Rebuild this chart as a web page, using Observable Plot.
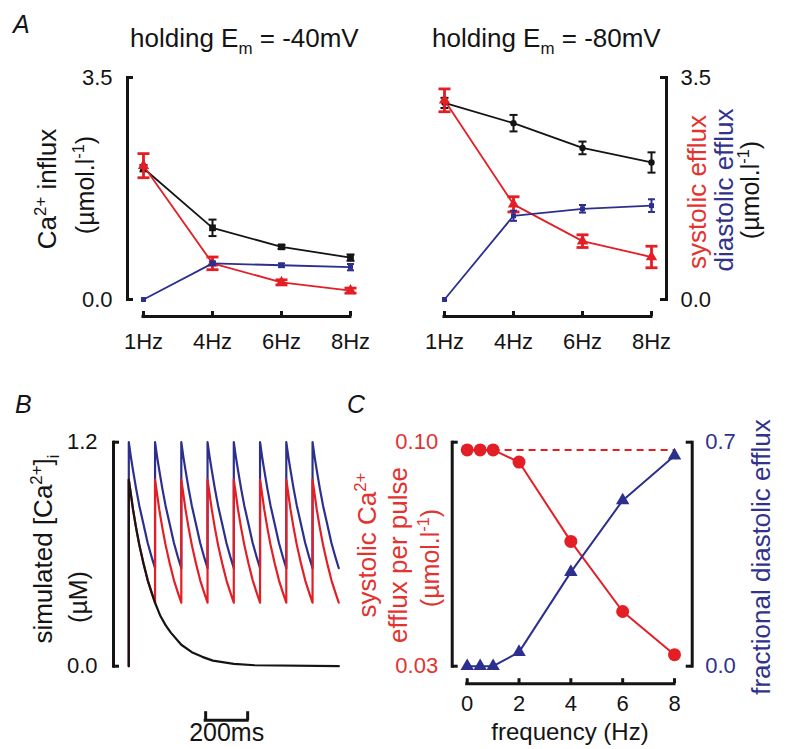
<!DOCTYPE html>
<html><head><meta charset="utf-8">
<script src="https://cdn.jsdelivr.net/npm/d3@7"></script>
<script src="https://cdn.jsdelivr.net/npm/@observablehq/plot@0.6"></script>
<style>
html,body{margin:0;padding:0;background:#fff;}
#chart{position:relative;width:786px;height:749px;overflow:hidden;}
#chart svg{position:absolute;left:0;top:0;}
</style></head><body><div id="chart"></div>
<script>
const W = 786, H = 749;
const RED = "#e31e25", NAVY = "#2d2f8e", INK = "#141414";
const RED_TXT = "#e2332f", NAVY_TXT = "#30328c";
const FONT = '"Liberation Sans", Arial, sans-serif';

// ---- Panel A data ----
const freqLabels = ["1Hz", "4Hz", "6Hz", "8Hz"];
const ampTicks = [0, 3.5];
const m40Influx = [2.07, 1.13, 0.83, 0.66];
const m40InfluxErr = [0.05, 0.13, 0.03, 0.05];
const m40Systolic = [2.11, 0.57, 0.27, 0.14];
const m40SystolicErr = [0.19, 0.10, 0.04, 0.04];
const m40Diastolic = [0, 0.57, 0.54, 0.51];
const m40DiastolicErr = [0, 0.03, 0.03, 0.05];
const m80Influx = [3.10, 2.78, 2.39, 2.16];
const m80InfluxErr = [0.08, 0.13, 0.10, 0.16];
const m80Systolic = [3.14, 1.50, 0.92, 0.67];
const m80SystolicErr = [0.18, 0.12, 0.10, 0.17];
const m80Diastolic = [0, 1.32, 1.43, 1.48];
const m80DiastolicErr = [0, 0.08, 0.06, 0.10];

// ---- Panel B data ----
const beatTimesMs = [0, 125, 250, 375, 500, 625, 750, 875];
const decayOffsetsMs = [0, 10, 20, 35, 50, 70, 90, 110, 125];
const diastolicDecay = [1.2, 1.12, 1.05, 0.95, 0.86, 0.76, 0.66, 0.58, 0.525];
const systolicDecay = [1.0, 0.92, 0.84, 0.74, 0.65, 0.55, 0.46, 0.39, 0.34];
const singleTimeMs = [0, 0, 10, 20, 35, 50, 70, 90, 110, 125, 150, 175, 200, 250, 300, 350, 400, 500, 600, 1000];
const singleCa = [0, 1.0, 0.92, 0.84, 0.74, 0.65, 0.55, 0.46, 0.39, 0.34, 0.27, 0.22, 0.18, 0.115, 0.075, 0.05, 0.03, 0.012, 0.005, 0];
const caTicks = [0, 1.2];
const scaleBarStartMs = 366;
const scaleBarMs = 200;

// ---- Panel C data ----
const freqHz = [0, 0.5, 1, 2, 4, 6, 8];
const freqTicks = [0, 2, 4, 6, 8];
const systolicPerPulse = [0.0976, 0.0976, 0.0976, 0.0938, 0.069, 0.0471, 0.0336];
const fractionalDiastolic = [0, 0, 0, 0.044, 0.294, 0.518, 0.658];
const perPulseTicks = [0.03, 0.10];
const fractionTicks = [0, 0.7];

const chart = document.getElementById("chart");

const capSymbol = {draw(ctx, size) { const r = Math.sqrt(size / Math.PI); ctx.moveTo(-r, 0); ctx.lineTo(r, 0); }};
const upTick = {draw(ctx, size) { const r = Math.sqrt(size / Math.PI); ctx.moveTo(0, 0); ctx.lineTo(0, -r); }};

function baseStyle(color) {
  return {background: "transparent", fontFamily: FONT, color, overflow: "visible"};
}

function bracketY(side, frameW, ticks) {
  const inset = side === "left" ? {insetRight: frameW - 6} : {insetLeft: frameW - 6};
  return [
    Plot.frame({anchor: side, stroke: INK, strokeWidth: 3, strokeLinecap: "square"}),
    Plot.tickY(ticks, {y: d => d, stroke: INK, strokeWidth: 3, ...inset})
  ];
}

function panelA({series, xRange, side, marginLeft, marginRight}) {
  const top = 77, bottom = 299;
  const frameW = W - marginLeft - marginRight;
  const marks = [
    ...bracketY(side, frameW, ampTicks),
    Plot.axisY(ampTicks, {anchor: side, tickSize: 0, tickPadding: side === "left" ? 15 : 14,
      tickFormat: d => d.toFixed(1), fontSize: 22, color: INK, label: null}),
    Plot.ruleY([0], {x1: () => freqLabels[0], x2: () => freqLabels[freqLabels.length - 1], dy: 17,
      stroke: INK, strokeWidth: 3, strokeLinecap: "square"}),
    Plot.axisX(freqLabels, {tickSize: 5, dy: 12, tickPadding: 17, fontSize: 22, strokeWidth: 3, color: INK, label: null})
  ];
  for (const s of series) {
    const rows = s.values.map((v, i) => ({freq: freqLabels[i], v, e: s.err[i]}));
    const withErr = rows.filter(d => d.e > 0);
    marks.push(
      Plot.line(rows, {x: "freq", y: "v", stroke: s.color, strokeWidth: 1.8}),
      Plot.ruleX(withErr, {x: "freq", y1: d => d.v - d.e, y2: d => d.v + d.e, stroke: s.color, strokeWidth: s.errW}),
      Plot.dot(withErr, {x: "freq", y: d => d.v + d.e, symbol: capSymbol, r: s.capR, fill: "none", stroke: s.color, strokeWidth: s.errW}),
      Plot.dot(withErr, {x: "freq", y: d => d.v - d.e, symbol: capSymbol, r: s.capR, fill: "none", stroke: s.color, strokeWidth: s.errW}),
      Plot.dot(rows, {x: "freq", y: "v", symbol: s.symbol, r: s.r, fill: s.color, stroke: "none"})
    );
  }
  return Plot.plot({
    width: W, height: H, marginLeft, marginRight, marginTop: top, marginBottom: H - bottom,
    x: {type: "point", domain: freqLabels, range: xRange, padding: 0},
    y: {domain: [0, 3.5], range: [bottom, top]},
    style: baseStyle(INK),
    marks
  });
}

const AL = panelA({
  side: "left", marginLeft: 127, marginRight: W - 360, xRange: [142, 350],
  series: [
    {values: m40Influx, err: m40InfluxErr, color: INK, symbol: "square", r: 3.8, capR: 4, errW: 2},
    {values: m40Systolic, err: m40SystolicErr, color: RED, symbol: "triangle", r: 4.2, capR: 6, errW: 2.8},
    {values: m40Diastolic, err: m40DiastolicErr, color: NAVY, symbol: "square", r: 2.8, capR: 3.5, errW: 2}
  ]
});
const AR = panelA({
  side: "right", marginLeft: 430, marginRight: W - 666, xRange: [443, 652],
  series: [
    {values: m80Influx, err: m80InfluxErr, color: INK, symbol: "circle", r: 3.2, capR: 4, errW: 2},
    {values: m80Systolic, err: m80SystolicErr, color: RED, symbol: "triangle", r: 4.2, capR: 6, errW: 2.8},
    {values: m80Diastolic, err: m80DiastolicErr, color: NAVY, symbol: "square", r: 2.8, capR: 3.5, errW: 2}
  ]
});

// ---- Panel B ----
function sawtooth(decay) {
  const pts = [{t: 0, v: 0}];
  beatTimesMs.forEach(b => decayOffsetsMs.forEach((o, i) => pts.push({t: b + o, v: decay[i]})));
  return pts;
}
const singleRows = singleTimeMs.map((t, i) => ({t, v: singleCa[i]}));
const bTop = 441.7, bBottom = 665.7, bLeft = 113, bRightM = W - 345;
const B = Plot.plot({
  width: W, height: H, marginLeft: bLeft, marginRight: bRightM, marginTop: bTop, marginBottom: H - bBottom,
  x: {domain: [0, 1000], range: [128.3, 338.3], axis: null},
  y: {domain: [0, 1.2], range: [bBottom, bTop]},
  style: baseStyle(INK),
  marks: [
    ...bracketY("left", W - bLeft - bRightM, caTicks),
    Plot.axisY(caTicks, {anchor: "left", tickSize: 0, tickPadding: 16, tickFormat: d => d.toFixed(1), fontSize: 22, color: INK, label: null}),
    Plot.line(sawtooth(diastolicDecay), {x: "t", y: "v", stroke: NAVY, strokeWidth: 2.2}),
    Plot.line(sawtooth(systolicDecay), {x: "t", y: "v", stroke: RED, strokeWidth: 2.2}),
    Plot.line(singleRows, {x: "t", y: "v", stroke: INK, strokeWidth: 2.2}),
    Plot.ruleY([0], {x1: () => scaleBarStartMs, x2: () => scaleBarStartMs + scaleBarMs, dy: 54, stroke: INK, strokeWidth: 3, strokeLinecap: "square"}),
    Plot.dot([scaleBarStartMs, scaleBarStartMs + scaleBarMs], {x: d => d, y: () => 0, dy: 54, symbol: upTick, r: 9, fill: "none", stroke: INK, strokeWidth: 3}),
    Plot.text([scaleBarMs], {x: () => scaleBarStartMs + scaleBarMs / 2, y: () => 0, dy: 67, text: d => `${d}ms`, fontSize: 25, fill: INK})
  ]
});

// ---- Panel C ----
const cTop = 441.7, cBottom = 665.7, cLeft = 451.7, cRightM = W - 691.7;
const cFrameW = W - cLeft - cRightM;
const cRows = freqHz.map((f, i) => ({f, s: systolicPerPulse[i], d: fractionalDiastolic[i]}));
const C1 = Plot.plot({
  width: W, height: H, marginLeft: cLeft, marginRight: cRightM, marginTop: cTop, marginBottom: H - cBottom,
  x: {domain: [0, 8], range: [466.7, 674]},
  y: {domain: [0.03, 0.10], range: [cBottom, cTop]},
  style: baseStyle(RED_TXT),
  marks: [
    ...bracketY("left", cFrameW, perPulseTicks),
    Plot.axisY(perPulseTicks, {anchor: "left", tickSize: 0, tickPadding: 14, tickFormat: d => d.toFixed(2), fontSize: 22, color: RED_TXT, label: null}),
    Plot.ruleY([perPulseTicks[0]], {x1: () => freqTicks[0], x2: () => freqTicks[freqTicks.length - 1], dy: 17.5, stroke: INK, strokeWidth: 3, strokeLinecap: "square"}),
    Plot.axisX(freqTicks, {tickSize: 5, dy: 12.5, tickPadding: 12, fontSize: 22, strokeWidth: 3, color: INK, fill: INK, stroke: INK, label: null}),
    Plot.ruleY([systolicPerPulse[2]], {x1: () => freqHz[2], x2: () => freqHz[freqHz.length - 1], stroke: RED, strokeWidth: 2, strokeDasharray: "7,5"}),
    Plot.line(cRows, {x: "f", y: "s", stroke: RED, strokeWidth: 2}),
    Plot.dot(cRows, {x: "f", y: "s", r: 6.5, fill: RED, stroke: "none"})
  ]
});
const C2 = Plot.plot({
  width: W, height: H, marginLeft: cLeft, marginRight: cRightM, marginTop: cTop, marginBottom: H - cBottom,
  x: {domain: [0, 8], range: [466.7, 674], axis: null},
  y: {domain: [0, 0.7], range: [cBottom, cTop]},
  style: baseStyle(NAVY_TXT),
  marks: [
    ...bracketY("right", cFrameW, fractionTicks),
    Plot.axisY(fractionTicks, {anchor: "right", tickSize: 0, tickPadding: 13, tickFormat: d => d.toFixed(1), fontSize: 22, color: NAVY_TXT, label: null}),
    Plot.line(cRows, {x: "f", y: "d", stroke: NAVY, strokeWidth: 2}),
    Plot.dot(cRows, {x: "f", y: "d", symbol: "triangle", r: 5, fill: NAVY, stroke: "none"})
  ]
});

[AL, AR, B, C1, C2].forEach(p => chart.appendChild(p));

// ---- Text overlay ----
const overlay = d3.select(chart).append("svg").attr("width", W).attr("height", H)
  .style("font-family", FONT).style("pointer-events", "none");

function label(parts, {x, y, rotate = false, size = 26, fill = INK, anchor = "start", italic = false}) {
  const t = overlay.append("text").attr("font-size", size).attr("fill", fill).attr("text-anchor", rotate ? "middle" : anchor);
  if (italic) t.attr("font-style", "italic");
  if (rotate) t.attr("transform", `translate(${x + 0.35 * size},${y}) rotate(-90)`);
  else t.attr("x", x).attr("y", y);
  for (const p of parts) {
    if (typeof p === "string") t.append("tspan").text(p);
    else t.append("tspan").attr("font-size", size * 0.65)
      .attr("baseline-shift", p.sup ? size * 0.4 : -size * 0.25).text(p.text);
  }
}

label(["A"], {x: 13, y: 33, size: 25, italic: true});
label(["B"], {x: 15, y: 413, size: 25, italic: true});
label(["C"], {x: 347, y: 413, size: 25, italic: true});
label(["holding E", {text: "m"}, " = -40mV"], {x: 130, y: 47});
label(["holding E", {text: "m"}, " = -80mV"], {x: 432, y: 47});

label(["Ca", {text: "2+", sup: true}, " influx"], {x: 47, y: 189, rotate: true});
label(["(µmol.l", {text: "-1", sup: true}, ")"], {x: 85, y: 185, rotate: true, size: 25});
label(["systolic efflux"], {x: 697, y: 192, rotate: true, fill: RED_TXT});
label(["diastolic efflux"], {x: 724, y: 190, rotate: true, fill: NAVY_TXT});
label(["(µmol.l", {text: "-1", sup: true}, ")"], {x: 750, y: 190, rotate: true, size: 25});

label(["simulated [Ca", {text: "2+", sup: true}, "]", {text: "i"}], {x: 43, y: 549, rotate: true});
label(["(µM)"], {x: 78, y: 597, rotate: true, size: 25});

label(["systolic Ca", {text: "2+", sup: true}], {x: 367, y: 545, rotate: true, fill: RED_TXT});
label(["efflux per pulse"], {x: 398, y: 555, rotate: true, fill: RED_TXT});
label(["(µmol.l", {text: "-1", sup: true}, ")"], {x: 430, y: 558, rotate: true, size: 25, fill: RED_TXT});
label(["fractional diastolic efflux"], {x: 761, y: 557, rotate: true, fill: NAVY_TXT});
label(["frequency (Hz)"], {x: 570, y: 740, anchor: "middle", size: 24});
</script>
</body></html>
